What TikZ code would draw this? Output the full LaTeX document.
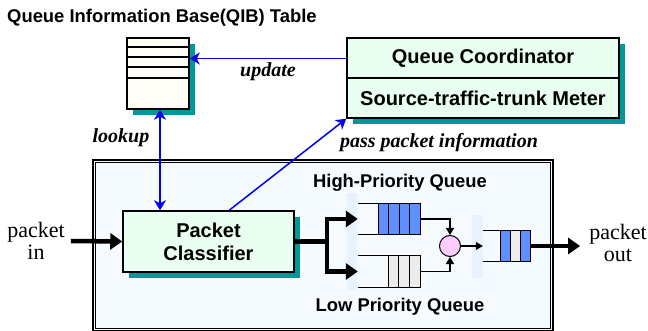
\documentclass[tikz,border=0pt]{standalone}
\usepackage{fontspec}
\setmainfont{Liberation Serif}
\setsansfont{Liberation Sans}
\usetikzlibrary{arrows.meta,shadows,calc}

\definecolor{shadowteal}{RGB}{0,153,153}
\definecolor{linkblue}{RGB}{0,0,235}
\definecolor{boxmint}{RGB}{232,255,242}
\definecolor{tablefill}{RGB}{255,255,248}
\definecolor{framefill}{RGB}{245,250,255}
\definecolor{bandfill}{RGB}{232,242,252}
\definecolor{cellblue}{RGB}{96,144,255}
\definecolor{cellgray}{RGB}{236,236,236}
\definecolor{muxpink}{RGB}{255,204,255}

\begin{document}
\begin{tikzpicture}[x=1pt,y=-1pt,
  shadowed/.style={drop shadow={shadow xshift=6pt,shadow yshift=-6pt,fill=shadowteal,opacity=1}},
  box/.style={draw,line width=1.5pt,fill=boxmint,inner sep=0pt,shadowed},
  sanslbl/.style={font=\sffamily\bfseries\fontsize{20}{23}\selectfont,inner sep=0pt},
  qlbl/.style={font=\sffamily\bfseries\fontsize{18.4}{21}\selectfont,inner sep=0pt,anchor=base},
  italbl/.style={font=\rmfamily\bfseries\itshape\fontsize{20}{23}\selectfont,inner sep=0pt,anchor=base},
  iolbl/.style={font=\rmfamily\fontsize{22}{22}\selectfont,align=center,inner sep=0pt},
  link/.style={draw=linkblue,line width=1.5pt},
  linkarrow/.style={link,-{Stealth[length=10pt,width=12pt,inset=3pt]}},
  linkboth/.style={link,{Stealth[length=10pt,width=12pt,inset=3pt]}-{Stealth[length=10pt,width=12pt,inset=3pt]}},
  bigarrow/.style={line width=4.5pt,line join=miter,-{Triangle[length=12pt,width=16pt]}},
  thinarrow/.style={line width=1.2pt,-{Triangle[length=7pt,width=8pt]}},
  qslot/.style={minimum height=30pt,inner sep=0pt},
  cell/.style={draw,line width=1.2pt}
]
\useasboundingbox (0,0) rectangle (648,331);

% title
\node[font=\sffamily\bfseries\fontsize{18.4}{21}\selectfont,inner sep=0pt,anchor=base west] (title) at (7,22.5) {Queue Information Base(QIB) Table};

% QIB table
\node[draw,line width=1.5pt,fill=tablefill,shadowed,minimum width=62pt,minimum height=71pt,inner sep=0pt] (qib) at (158,73.5) {};
\foreach \dy in {10,20,30,41}
  \draw[line width=1.5pt] ($(qib.north west)+(0,\dy)$) -- ($(qib.north east)+(0,\dy)$);

% queue coordinator / meter
\node[box,minimum width=272pt,minimum height=80pt] (qc) at (483,78) {};
\draw[line width=1.5pt] (qc.west) -- (qc.east);
\node[sanslbl,minimum width=272pt] (qcTop) at (483,58.5) {Queue Coordinator};
\node[sanslbl,minimum width=272pt] (qcBot) at (483,98.5) {Source-traffic-trunk Meter};

% router frame
\node[draw,line width=2pt,fill=framefill,minimum width=460pt,minimum height=171pt,inner sep=0pt,anchor=north west] (frame) at (92,159) {};
\draw[line width=0.9pt] ($(frame.north west)+(3.5,3.5)$) rectangle ($(frame.south east)+(-3.5,-3.5)$);
\fill[bandfill] (347,193) rectangle (357,290);
\fill[bandfill] (472,215) rectangle (483,278);

% classifier
\node[box,minimum width=171pt,minimum height=61pt,align=center,font=\sffamily\bfseries\fontsize{20}{23}\selectfont] (cls) at (208.5,241.5) {Packet\\Classifier};

% queues
\node[qslot,minimum width=62pt] (hq) at (389,219) {};
\node[qslot,minimum width=62pt,minimum height=31pt] (lq) at (389,271.5) {};
\node[qslot,minimum width=47pt,minimum height=31pt] (oq) at (506.5,246) {};
\foreach \q in {hq,lq,oq}
  \draw[line width=1.2pt] (\q.north west) -- (\q.north east) (\q.south west) -- (\q.south east);
\foreach \i in {0,...,3}
  \draw[cell,fill=cellblue] ($(hq.north east)+(-10.5*\i-10.5,0)$) rectangle ($(hq.south east)+(-10.5*\i,0)$);
\foreach \i in {0,...,2}
  \draw[cell,fill=cellgray] ($(lq.north east)+(-10.67*\i-10.67,0)$) rectangle ($(lq.south east)+(-10.67*\i,0)$);
\foreach \i/\c in {0/cellblue,1/cellgray,2/cellblue}
  \draw[cell,fill=\c] ($(oq.north east)+(-10*\i-10,0)$) rectangle ($(oq.south east)+(-10*\i,0)$);

% scheduler
\node[circle,draw,line width=1pt,fill=muxpink,minimum size=21pt,inner sep=0pt] (mux) at (450,246) {};

% in / out labels
\node[iolbl] (pin) at (36,241) {packet\\in};
\node[iolbl] (pout) at (618,242.5) {packet\\out};

% labels
\node[italbl] (updLbl) at (268,77) {update};
\node[italbl] (lookLbl) at (121,143) {lookup};
\node[italbl] (passLbl) at (439,148) {pass packet information};
\node[qlbl] (hqLbl) at (400,188) {High-Priority Queue};
\node[qlbl] (lqLbl) at (400,311) {Low Priority Queue};

% control connectors
\coordinate (lookTop) at ($(qib.south)+(2,0)$);
\coordinate (lookBot) at (lookTop |- cls.north);
\draw[linkarrow] (qcTop.west) -- (qcTop.west -| qib.east);
\draw[linkboth] (lookTop) -- (lookBot);
\draw[linkarrow] ($(cls.north west)+(107,0)$) -- (qc.south west);

% data path
\coordinate (fork) at (327,241.5);
\draw[bigarrow] ($(pin.east)+(6,0)$) -- (cls.west);
\draw[bigarrow] (cls.east) -- (fork) |- (hq.west);
\draw[bigarrow] (cls.east) -- (fork) |- (lq.west);
\draw[thinarrow] (hq.east) -| (mux.north);
\draw[thinarrow] (lq.east) -| (mux.south);
\draw[thinarrow] (mux.east) -- (oq.west);
\draw[bigarrow] (oq.east) -- ($(oq.east -| pout.west)+(-9,0)$);
\end{tikzpicture}
\end{document}
